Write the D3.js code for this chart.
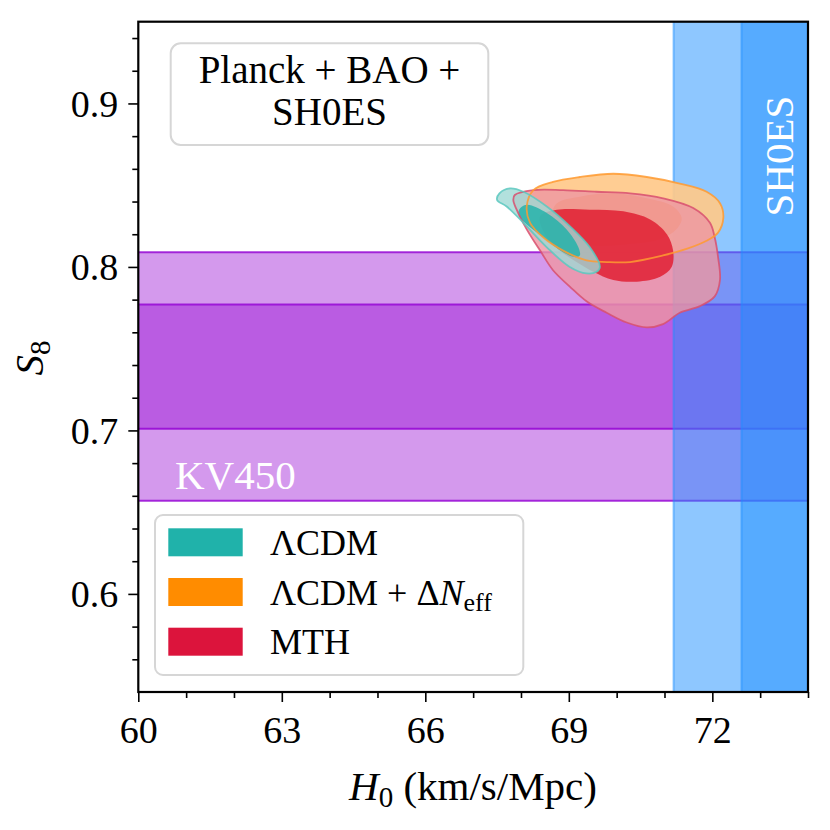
<!DOCTYPE html>
<html>
<head>
<meta charset="utf-8">
<script src="https://cdn.jsdelivr.net/npm/d3@7"></script>
<style>
  body { margin: 0; background: white; }
  text { font-family: "Liberation Serif", "DejaVu Serif", serif; }
</style>
</head>
<body>
<div id="grafico"></div>
<script>
// Datos
const h0Ticks = [60, 63, 66, 69, 72];
const h0Minor = [61, 62, 64, 65, 67, 68, 70, 71, 73, 74];
const s8Ticks = [0.6, 0.7, 0.8, 0.9];
const s8Minor = [0.56, 0.58, 0.62, 0.64, 0.66, 0.68, 0.72, 0.74, 0.76, 0.78, 0.82, 0.84, 0.86, 0.88, 0.92, 0.94];

// KV450 (S8) y SH0ES (H0): [2 sigma, 1 sigma]
const kvBandas = [[0.657, 0.809], [0.701, 0.777]];
const shoesBandas = [[71.19, 76.87], [72.61, 75.45]];

// Contornos [H0, S8]
const lcdm2 = [[67.50, 0.841], [67.55, 0.845], [67.77, 0.848], [68.05, 0.846], [68.54, 0.837], [69.02, 0.825],
  [69.44, 0.812], [69.65, 0.800], [69.58, 0.797], [69.37, 0.796], [69.02, 0.800], [68.54, 0.812],
  [68.05, 0.827], [67.70, 0.837]];
const lcdm1 = [[67.96, 0.835], [68.12, 0.838], [68.54, 0.833], [68.95, 0.823], [69.20, 0.812], [69.23, 0.807],
  [69.13, 0.806], [68.88, 0.809], [68.47, 0.818], [68.12, 0.826], [67.96, 0.831]];
const neff2 = [[68.12, 0.837], [68.26, 0.847], [68.67, 0.852], [69.23, 0.855], [69.93, 0.857], [70.63, 0.855],
  [71.32, 0.851], [71.88, 0.846], [72.16, 0.839], [72.23, 0.830], [72.12, 0.821], [71.88, 0.816],
  [71.46, 0.811], [70.97, 0.807], [70.28, 0.803], [69.79, 0.803], [69.37, 0.804], [68.88, 0.810],
  [68.47, 0.818], [68.19, 0.827]];
const neff1 = [[68.75, 0.839], [69.23, 0.843], [69.93, 0.845], [70.63, 0.842], [71.18, 0.837], [71.36, 0.830],
  [71.25, 0.823], [70.91, 0.817], [70.28, 0.814], [69.58, 0.813], [69.02, 0.816], [68.75, 0.823],
  [68.64, 0.831]];
const mth2 = [[67.87, 0.844], [68.26, 0.847], [68.88, 0.847], [69.58, 0.846], [70.28, 0.845], [70.97, 0.842],
  [71.60, 0.836], [71.95, 0.827], [72.05, 0.818], [72.12, 0.806], [72.16, 0.792], [72.05, 0.782],
  [71.74, 0.776], [71.32, 0.772], [70.97, 0.765], [70.63, 0.763], [70.21, 0.766], [69.79, 0.772],
  [69.37, 0.779], [69.02, 0.788], [68.67, 0.798], [68.40, 0.810], [68.12, 0.823], [67.91, 0.835],
  [67.84, 0.841]];
const mth1 = [[68.40, 0.831], [68.75, 0.835], [69.44, 0.835], [70.14, 0.834], [70.70, 0.829], [71.05, 0.820],
  [71.18, 0.810], [71.15, 0.800], [70.91, 0.794], [70.42, 0.791], [69.93, 0.792], [69.51, 0.797],
  [69.16, 0.803], [68.81, 0.810], [68.50, 0.820]];

const modelos = ["ΛCDM", "ΛCDM + ΔN_eff", "MTH"];
const colores = ["#20b2aa", "#ff8c00", "#dc143c"];

// Dimensiones
const ancho = 830, alto = 830;
const margen = { superior: 21.7, derecho: 22, inferior: 138, izquierdo: 138.3 };
const anchoGrafico = ancho - margen.izquierdo - margen.derecho;
const altoGrafico = alto - margen.superior - margen.inferior;

const svg = d3.select("#grafico").append("svg")
  .attr("width", ancho)
  .attr("height", alto);

const x = d3.scaleLinear().domain([60, 74]).range([0, anchoGrafico]);
const y = d3.scaleLinear().domain([0.54, 0.95]).range([altoGrafico, 0]);

const g = svg.append("g")
  .attr("transform", `translate(${margen.izquierdo},${margen.superior})`);

g.append("clipPath").attr("id", "recorte")
  .append("rect").attr("width", anchoGrafico).attr("height", altoGrafico);

const zona = g.append("g").attr("clip-path", "url(#recorte)");

// Bandas KV450
kvBandas.forEach(b => {
  zona.append("rect")
    .attr("x", 0).attr("width", anchoGrafico)
    .attr("y", y(b[1])).attr("height", y(b[0]) - y(b[1]))
    .attr("fill", "#9400d3").attr("fill-opacity", 0.4);
  b.forEach(v => zona.append("line")
    .attr("x1", 0).attr("x2", anchoGrafico)
    .attr("y1", y(v)).attr("y2", y(v))
    .attr("stroke", "#9400d3").attr("stroke-width", 2).attr("stroke-opacity", 0.8));
});

// Bandas SH0ES
shoesBandas.forEach(b => {
  zona.append("rect")
    .attr("x", x(b[0])).attr("width", x(b[1]) - x(b[0]))
    .attr("y", 0).attr("height", altoGrafico)
    .attr("fill", "#1e90ff").attr("fill-opacity", 0.5);
  zona.append("line")
    .attr("x1", x(b[0])).attr("x2", x(b[0]))
    .attr("y1", 0).attr("y2", altoGrafico)
    .attr("stroke", "#1e90ff").attr("stroke-width", 2).attr("stroke-opacity", 0.5);
});

// Contornos
const linea = d3.line()
  .x(d => x(d[0]))
  .y(d => y(d[1]))
  .curve(d3.curveCatmullRomClosed.alpha(0.5));

const rellenos = [
  { datos: neff2, color: "#ffc98a", op: 0.92 },
  { datos: neff1, color: "#ff9f40", op: 0.9 },
  { datos: mth2, color: "#ee96a2", op: 0.8 },
  { datos: mth1, color: "#e01e32", op: 0.85 },
  { datos: lcdm2, color: "#9fdad5", op: 0.8 },
  { datos: lcdm1, color: colores[0], op: 0.82 }
];

zona.selectAll(".relleno")
  .data(rellenos)
  .enter()
  .append("path")
  .attr("class", "relleno")
  .attr("d", d => linea(d.datos))
  .attr("fill", d => d.color)
  .attr("fill-opacity", d => d.op);

const bordes = [
  { datos: mth2, color: "#d8506e" },
  { datos: neff2, color: "#ff9a30" },
  { datos: lcdm2, color: "#5cc8c0" }
];

zona.selectAll(".borde")
  .data(bordes)
  .enter()
  .append("path")
  .attr("class", "borde")
  .attr("d", d => linea(d.datos))
  .attr("fill", "none")
  .attr("stroke", d => d.color)
  .attr("stroke-opacity", 0.85)
  .attr("stroke-width", 1.8);

// Etiquetas de las bandas
zona.append("text")
  .attr("x", 175 - margen.izquierdo).attr("y", 489 - margen.superior)
  .attr("font-size", "41px").attr("fill", "white")
  .text("KV450");

zona.append("text")
  .attr("transform", `translate(${793 - margen.izquierdo},${156 - margen.superior}) rotate(-90)`)
  .attr("text-anchor", "middle")
  .attr("font-size", "41px").attr("fill", "white")
  .text("SH0ES");

// Caja de título
g.append("rect")
  .attr("x", 170.7 - margen.izquierdo).attr("y", 43.3 - margen.superior)
  .attr("width", 317.6).attr("height", 101.7)
  .attr("rx", 10)
  .attr("fill", "white").attr("fill-opacity", 0.8)
  .attr("stroke", "#d6d6d6").attr("stroke-width", 2);

const titulo = g.append("text")
  .attr("text-anchor", "middle")
  .attr("font-size", "39px")
  .attr("fill", "black");
titulo.append("tspan").attr("x", 329.5 - margen.izquierdo).attr("y", 83.5 - margen.superior).text("Planck + BAO +");
titulo.append("tspan").attr("x", 329.5 - margen.izquierdo).attr("y", 125.5 - margen.superior).text("SH0ES");

// Leyenda
const leyenda = g.append("g")
  .attr("transform", `translate(${155 - margen.izquierdo},${515 - margen.superior})`);

leyenda.append("rect")
  .attr("width", 368.3).attr("height", 160)
  .attr("rx", 8)
  .attr("fill", "white").attr("fill-opacity", 0.8)
  .attr("stroke", "#d6d6d6").attr("stroke-width", 2);

modelos.forEach((m, i) => {
  const fila = leyenda.append("g").attr("transform", `translate(13.3,${13.3 + i * 49.7})`);
  fila.append("rect")
    .attr("width", 74.4).attr("height", 28)
    .attr("fill", colores[i]);
  const t = fila.append("text")
    .attr("x", 101.7).attr("y", 26.5)
    .attr("font-size", "36px");
  if (m.includes("_")) {
    t.append("tspan").text("ΛCDM + Δ");
    t.append("tspan").attr("font-style", "italic").text("N");
    t.append("tspan").attr("font-size", "26px").attr("dy", 6).text("eff");
  } else {
    t.text(m);
  }
});

// Ejes
const ejeX = g.append("g")
  .attr("transform", `translate(0,${altoGrafico})`)
  .call(d3.axisBottom(x).tickValues(h0Ticks).tickSize(10).tickPadding(14).tickFormat(d3.format("d")));
g.append("g")
  .attr("transform", `translate(0,${altoGrafico})`)
  .call(d3.axisBottom(x).tickValues(h0Minor).tickSize(6).tickFormat(""))
  .select(".domain").remove();

const ejeY = g.append("g")
  .call(d3.axisLeft(y).tickValues(s8Ticks).tickSize(10).tickPadding(10).tickFormat(d3.format(".1f")));
g.append("g")
  .call(d3.axisLeft(y).tickValues(s8Minor).tickSize(6).tickFormat(""))
  .select(".domain").remove();

g.selectAll(".tick line").attr("stroke-width", 1.6);
g.selectAll(".domain").remove();
ejeX.selectAll("text").attr("font-size", "38px").attr("font-family", "Liberation Serif, serif");
ejeY.selectAll("text").attr("font-size", "38px").attr("font-family", "Liberation Serif, serif")
  .attr("dy", "0.34em");

// Marco
g.append("rect")
  .attr("width", anchoGrafico).attr("height", altoGrafico)
  .attr("fill", "none").attr("stroke", "black").attr("stroke-width", 2.2);

// Títulos de ejes
const tituloX = svg.append("text")
  .attr("x", 473).attr("y", 800)
  .attr("text-anchor", "middle")
  .attr("font-size", "41px");
tituloX.append("tspan").attr("font-style", "italic").text("H");
tituloX.append("tspan").attr("font-size", "29px").attr("dy", 7).text("0");
tituloX.append("tspan").attr("dy", -7).text(" (km/s/Mpc)");

const tituloY = svg.append("text")
  .attr("transform", "translate(43,358) rotate(-90)")
  .attr("text-anchor", "middle")
  .attr("font-size", "41px");
tituloY.append("tspan").attr("font-style", "italic").text("S");
tituloY.append("tspan").attr("font-size", "29px").attr("dy", 7).text("8");
</script>
</body>
</html>
